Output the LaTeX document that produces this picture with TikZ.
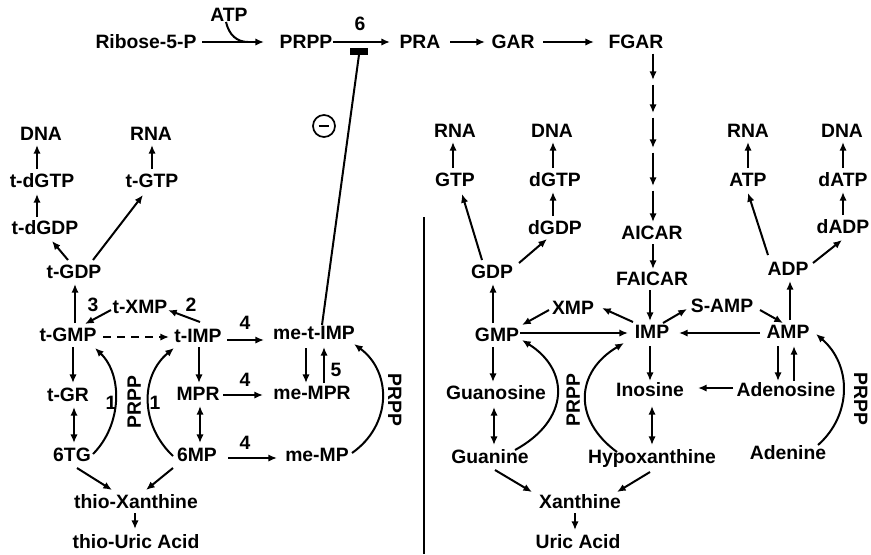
\documentclass[tikz,border=0pt]{standalone}
\usepackage{fontspec}
\setmainfont{Liberation Sans}
\usetikzlibrary{arrows.meta,calc}
\begin{document}
\begin{tikzpicture}[x=0.75pt,y=-0.75pt,
  lbl/.style={inner sep=0pt,font=\fontsize{14.5}{16}\selectfont\bfseries,text height=10.4pt,text depth=0pt},
  conn/.style={line width=1.5pt},
  arr/.style={conn,-{Latex[length=6.5pt,width=5.5pt]}},
  darr/.style={conn,{Latex[length=6.5pt,width=5.5pt]}-{Latex[length=6.5pt,width=5.5pt]}},
  dasharr/.style={arr,dash pattern=on 6pt off 4.5pt},
  chain/.style={arr,shorten <=2pt,shorten >=1.5pt}]
\useasboundingbox (0,0) rectangle (871,554);

% ---------- de novo route ----------
\node[lbl] (atp)    at (229,15)  {ATP};
\node[lbl] (ribose) at (146,42)  {Ribose-5-P};
\node[lbl] (prpp)   at (306,42)  {PRPP};
\node[lbl] (six)    at (360,24)  {6};
\node[lbl] (pra)    at (420,42)  {PRA};
\node[lbl] (gar)    at (513,42)  {GAR};
\node[lbl] (fgar)   at (636,42)  {FGAR};
\node[fill,inner sep=0pt,minimum width=13.5pt,minimum height=5.25pt] (bar) at (359,51) {};
\coordinate (k1) at (653,82);
\coordinate (k2) at (653,115);
\coordinate (k3) at (653,150);
\coordinate (k4) at (653,188);
\node[lbl] (aicar)  at (652,233) {AICAR};
\node[lbl] (faicar) at (652,279) {FAICAR};

\draw[arr] ($(ribose)+(56,0)$) -- ($(prpp)+(-42,0)$);
\draw[conn] ($(atp)+(-3,7)$) .. controls ($(atp)+(0,20)$) and ($(atp)+(8,27)$) .. ($(prpp)+(-58,0)$);
\draw[arr] ($(prpp)+(27,0)$) -- ($(pra)+(-30,0)$);
\draw[arr] ($(pra)+(30,0)$) -- ($(gar)+(-28,0)$);
\draw[arr] ($(gar)+(30,0)$) -- ($(fgar)+(-42,0)$);
\draw[chain] ($(fgar)+(17,9)$) -- (k1);
\draw[chain] (k1) -- (k2);
\draw[chain] (k2) -- (k3);
\draw[chain] (k3) -- (k4);
\draw[chain] (k4) -- ($(aicar)+(1,-9)$);
\draw[arr] ($(aicar)+(1,11)$) -- ($(faicar)+(1,-10)$);

% ---------- thiopurine side ----------
\node[lbl] (dnaL)   at (41,134)  {DNA};
\node[lbl] (rnaL)   at (151,134) {RNA};
\node[lbl] (tdGTP)  at (42,181)  {t-dGTP};
\node[lbl] (tGTP)   at (152,181) {t-GTP};
\node[lbl] (tdGDP)  at (45,228)  {t-dGDP};
\node[lbl] (tGDP)   at (74,272)  {t-GDP};
\node[lbl] (three)  at (93,305)  {3};
\node[lbl] (tXMP)   at (140,307) {t-XMP};
\node[lbl] (two)    at (191,305) {2};
\node[lbl] (tGMP)   at (68,335)  {t-GMP};
\node[lbl] (tIMP)   at (198,336) {t-IMP};
\node[lbl] (meTIMP) at (314,333) {me-t-IMP};
\node[lbl] (tGR)    at (68,395)  {t-GR};
\node[lbl] (MPR)    at (198,394) {MPR};
\node[lbl] (meMPR)  at (312,393) {me-MPR};
\node[lbl] (five)   at (336,370) {5};
\node[lbl] (oneL)   at (111,403) {1};
\node[lbl] (oneR)   at (155,403) {1};
\node[lbl,rotate=90]  (prppA) at (134,402) {PRPP};
\node[lbl,rotate=-90] (prppB) at (395,400) {PRPP};
\node[lbl] (tg6)    at (72,455)  {6TG};
\node[lbl] (mp6)    at (197,455) {6MP};
\node[lbl] (meMP)   at (317,455) {me-MP};
\node[lbl] (fourA)  at (245,323) {4};
\node[lbl] (fourB)  at (245,380) {4};
\node[lbl] (fourC)  at (245,443) {4};
\node[lbl] (thioX)  at (136,502) {thio-Xanthine};
\node[lbl] (thioU)  at (136,542) {thio-Uric Acid};
\node[circle,draw,line width=1.3pt,inner sep=0pt,minimum size=16.5pt,
  path picture={\draw[line width=1.4pt] ($(path picture bounding box.center)+(-4pt,0)$) -- ++(8pt,0);}]
  (minus) at (324,126) {};

\draw[arr] ($(tdGTP)+(-5,-12)$) -- ($(dnaL)+(-4,11)$);
\draw[arr] ($(tGTP)+(0,-12)$) -- ($(rnaL)+(1,11)$);
\draw[arr] ($(tdGDP)+(-8,-11)$) -- ($(tdGTP)+(-5,13)$);
\draw[arr] ($(tGDP)+(-6,-12)$) -- ($(tdGDP)+(7,13)$);
\draw[arr] ($(tGDP)+(19,-12)$) -- ($(tGTP)+(-9,14)$);
\draw[arr] ($(tGMP)+(7,-12)$) -- ($(tGDP)+(1,12)$);
\draw[arr] ($(tXMP)+(-29,3)$) -- ($(tGMP)+(17,-11)$);
\draw[arr] ($(tIMP)+(2,-14)$) -- ($(tXMP)+(28,3)$);
\draw[dasharr] ($(tGMP)+(35,2)$) -- ($(tIMP)+(-29,1)$);
\draw[arr] ($(tGMP)+(5,12)$) -- ($(tGR)+(5,-12)$);
\draw[arr] ($(tIMP)+(1,11)$) -- ($(MPR)+(1,-11)$);
\draw[arr] ($(tIMP)+(29,4)$) -- ($(meTIMP)+(-50,7)$);
\draw[arr] ($(MPR)+(25,1)$) -- ($(meMPR)+(-49,2)$);
\draw[arr] ($(mp6)+(31,3)$) -- ($(meMP)+(-40,3)$);
\draw[arr] ($(meTIMP)+(-8,15)$) -- ($(meMPR)+(-6,-10)$);
\draw[arr] ($(meMPR)+(12,-10)$) -- ($(meTIMP)+(10,14)$);
\draw[darr] ($(tGR)+(6,12)$) -- ($(tg6)+(2,-12)$);
\draw[darr] ($(MPR)+(2,12)$) -- ($(mp6)+(3,-12)$);
\draw[arr] ($(tg6)+(5,13)$) -- ($(thioX)+(-24,-12)$);
\draw[arr] ($(mp6)+(-24,13)$) -- ($(thioX)+(10,-12)$);
\draw[arr] ($(thioX)+(-1,11)$) -- ($(thioU)+(-1,-13)$);
\draw[arr] ($(tg6)+(21,-1)$) .. controls ($(tg6)+(50,-30)$) and ($(tGMP)+(55,40)$) .. ($(tGMP)+(27,13)$);
\draw[arr] ($(mp6)+(-24,1)$) .. controls ($(mp6)+(-57,-30)$) and ($(tIMP)+(-58,40)$) .. ($(tIMP)+(-24,12)$);
\draw[arr] ($(meMP)+(35,-2)$) .. controls ($(meMP)+(75,-30)$) and ($(meTIMP)+(78,39)$) .. ($(meTIMP)+(40,11)$);
% feedback inhibition of step 6
\draw[conn] ($(meTIMP)+(8,-8)$) -- (bar.south);

% ---------- natural purine side ----------
\coordinate (dv1) at (424,217);
\coordinate (dv2) at (424,554);
\draw[line width=1.3pt] (dv1) -- (dv2);

\node[lbl] (rnaG)  at (455,131) {RNA};
\node[lbl] (dnaG)  at (552,131) {DNA};
\node[lbl] (gtp)   at (455,180) {GTP};
\node[lbl] (dgtp)  at (555,180) {dGTP};
\node[lbl] (dgdp)  at (555,228) {dGDP};
\node[lbl] (gdp)   at (492,272) {GDP};
\node[lbl] (xmp)   at (573,308) {XMP};
\node[lbl] (gmp)   at (497,335) {GMP};
\node[lbl] (imp)   at (652,332) {IMP};
\node[lbl] (samp)  at (722,306) {S-AMP};
\node[lbl] (amp)   at (788,332) {AMP};
\node[lbl] (rnaA)  at (748,131) {RNA};
\node[lbl] (dnaA)  at (842,131) {DNA};
\node[lbl] (atpR)  at (748,180) {ATP};
\node[lbl] (datp)  at (843,180) {dATP};
\node[lbl] (dadp)  at (843,227) {dADP};
\node[lbl] (adp)   at (788,269) {ADP};
\node[lbl] (guanosine) at (496,393) {Guanosine};
\node[lbl] (inosine)   at (650,390) {Inosine};
\node[lbl] (adenosine) at (786,390) {Adenosine};
\node[lbl] (guanine)   at (490,457) {Guanine};
\node[lbl] (hypox)     at (652,457) {Hypoxanthine};
\node[lbl] (adenine)   at (788,453) {Adenine};
\node[lbl,rotate=90]  (prppC) at (573,400) {PRPP};
\node[lbl,rotate=-90] (prppD) at (861,399) {PRPP};
\node[lbl] (xanth) at (580,502) {Xanthine};
\node[lbl] (uric)  at (578,542) {Uric Acid};

\draw[arr] ($(gtp)+(-2,-12)$) -- ($(rnaG)+(-2,11)$);
\draw[arr] ($(dgtp)+(-2,-12)$) -- ($(dnaG)+(1,11)$);
\draw[arr] ($(dgdp)+(-2,-12)$) -- ($(dgtp)+(-2,12)$);
\draw[arr] ($(gdp)+(-10,-12)$) -- ($(gtp)+(7,14)$);
\draw[arr] ($(gdp)+(27,-9)$) -- ($(dgdp)+(-8,11)$);
\draw[arr] ($(gmp)+(-4,-12)$) -- ($(gdp)+(1,12)$);
\draw[arr] ($(xmp)+(-24,2)$) -- ($(gmp)+(25,-10)$);
\draw[arr] ($(imp)+(-19,-10)$) -- ($(xmp)+(29,0)$);
\draw[arr] ($(gmp)+(23,-2)$) -- ($(imp)+(-24,1)$);
\draw[arr] ($(faicar)+(-2,11)$) -- ($(imp)+(-2,-11)$);
\draw[arr] ($(imp)+(11,-9)$) -- ($(samp)+(-35,3)$);
\draw[arr] ($(samp)+(38,4)$) -- ($(amp)+(-5,-9)$);
\draw[arr] ($(amp)+(-28,1)$) -- ($(imp)+(27,1)$);
\draw[arr] ($(amp)+(2,-12)$) -- ($(adp)+(2,12)$);
\draw[arr] ($(adp)+(-20,-14)$) -- ($(atpR)+(0,13)$);
\draw[arr] ($(adp)+(25,-6)$) -- ($(dadp)+(-1,13)$);
\draw[arr] ($(dadp)+(0,-12)$) -- ($(datp)+(0,12)$);
\draw[arr] ($(datp)+(0,-12)$) -- ($(dnaA)+(1,11)$);
\draw[arr] ($(atpR)+(0,-12)$) -- ($(rnaA)+(0,11)$);
\draw[arr] ($(imp)+(-2,14)$) -- ($(inosine)+(0,-9)$);
\draw[arr] ($(adenosine)+(-53,-2)$) -- ($(inosine)+(48,-2)$);
\draw[arr] ($(amp)+(-10,14)$) -- ($(adenosine)+(-8,-9)$);
\draw[arr] ($(adenosine)+(8,-9)$) -- ($(amp)+(6,14)$);
\draw[arr] ($(gmp)+(-4,12)$) -- ($(guanosine)+(-3,-11)$);
\draw[darr] ($(guanosine)+(-2,14)$) -- ($(guanine)+(4,-12)$);
\draw[darr] ($(inosine)+(2,16)$) -- ($(hypox)+(0,-12)$);
\draw[arr] ($(guanine)+(5,13)$) -- ($(xanth)+(-48,-10)$);
\draw[arr] ($(hypox)+(-2,15)$) -- ($(xanth)+(37,-10)$);
\draw[arr] ($(xanth)+(-5,11)$) -- ($(uric)+(-3,-12)$);
\draw[arr] ($(guanine)+(25,-7)$) .. controls ($(guanine)+(80,-37)$) and ($(gmp)+(73,35)$) .. ($(gmp)+(25,5)$);
\draw[arr] ($(hypox)+(-35,-5)$) .. controls ($(hypox)+(-79,-37)$) and ($(imp)+(-77,40)$) .. ($(imp)+(-28,11)$);
\draw[arr] ($(adenine)+(30,-8)$) .. controls ($(adenine)+(64,-38)$) and ($(amp)+(64,33)$) .. ($(amp)+(28,2)$);
\end{tikzpicture}
\end{document}
